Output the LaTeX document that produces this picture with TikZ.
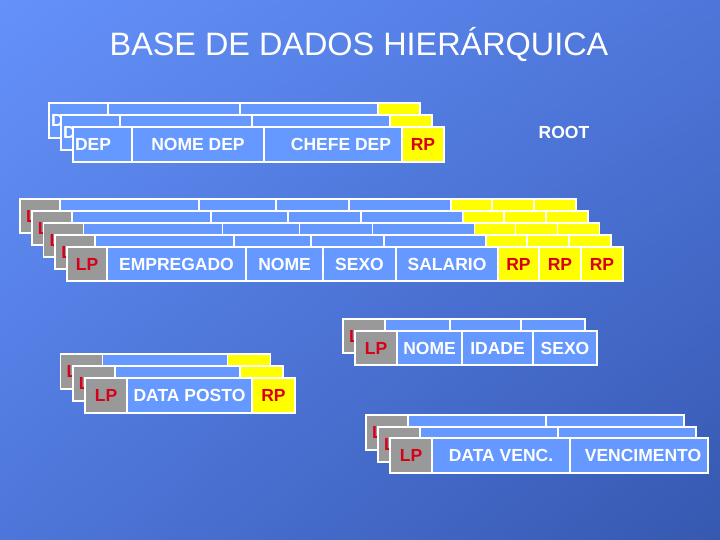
\documentclass[tikz,border=0pt]{standalone}
\usepackage{fontspec}
\setmainfont{Liberation Sans}
\usetikzlibrary{shadings}
\definecolor{bgA}{RGB}{100,146,250}
\definecolor{bgB}{RGB}{78,118,218}
\definecolor{bgC}{RGB}{54,88,176}
\definecolor{cellblue}{RGB}{102,153,255}
\definecolor{cellgray}{RGB}{153,153,153}
\definecolor{cellyellow}{RGB}{255,255,0}
\definecolor{lpred}{RGB}{215,0,25}
\newcommand\cellfont{\fontsize{17.5}{20}\selectfont\bfseries}
\newcommand\backrec[4]{\foreach \a/\b/\c in {#4}{\filldraw[cellline,fill=\c] ({#1+\a},#2) rectangle ({#1+\b},{#2+#3});}}
\tikzset{
  cellline/.style={draw=white, line width=1.8pt},
  cell/.style={cellline, fill=cellblue, inner sep=0pt, outer sep=0pt, anchor=north west, font=\cellfont, text=white},
  gcell/.style={cell, fill=cellgray, text=lpred},
  ycell/.style={cell, fill=cellyellow, text=lpred},
  peekD/.style={inner sep=0pt, anchor=west, font=\cellfont, text=white},
  peekL/.style={inner sep=0pt, anchor=west, font=\cellfont, text=lpred},
}
\begin{document}
\begin{tikzpicture}[x=1pt,y=-1pt]
\useasboundingbox (0,0) rectangle (720,540);
\shade[upper left=bgA, upper right=bgB, lower left=bgB, lower right=bgC] (0,0) rectangle (720,540);

\node[font=\fontsize{32.4}{38}\selectfont, text=white, anchor=base, inner sep=0pt] (title) at (359,56) {BASE DE DADOS HIERÁRQUICA};
\node[font=\cellfont, text=white, inner sep=0pt] (root) at (564,132) {ROOT};

% ---- group 1: DEP
\backrec{49}{103}{35}{0/59/cellblue,59/191/cellblue,191/329/cellblue,329/371/cellyellow}
\node[peekD] (d0) at (51,120.5) {D};
\backrec{61}{115}{35}{0/59/cellblue,59/191/cellblue,191/329/cellblue,329/371/cellyellow}
\node[peekD] (d1) at (63,132.5) {D};
\node[cell, minimum width=59pt, minimum height=35pt, text width=55pt, align=left] (dep) at (73,127) {DEP};
\node[cell, minimum width=132pt, minimum height=35pt] (nomedep) at (132,127) {NOME DEP};
\node[cell, minimum width=138pt, minimum height=35pt] (chefedep) at (264,127) {\hspace*{16pt}CHEFE DEP};
\node[ycell, minimum width=42pt, minimum height=35pt] (rp1) at (402,127) {RP};

% ---- group 2: EMPREGADO
\backrec{20}{199}{34}{0/40/cellgray,40/179/cellblue,179/256/cellblue,256/329/cellblue,329/431/cellblue,431/472/cellyellow,472/514/cellyellow,514/556/cellyellow}
\node[peekL] (l20) at (26,216) {L};
\backrec{31.75}{211}{34}{0/40/cellgray,40/179/cellblue,179/256/cellblue,256/329/cellblue,329/431/cellblue,431/472/cellyellow,472/514/cellyellow,514/556/cellyellow}
\node[peekL] (l21) at (37.75,228) {L};
\backrec{43.5}{223}{34}{0/40/cellgray,40/179/cellblue,179/256/cellblue,256/329/cellblue,329/431/cellblue,431/472/cellyellow,472/514/cellyellow,514/556/cellyellow}
\node[peekL] (l22) at (49.5,240) {L};
\backrec{55.25}{235}{34}{0/40/cellgray,40/179/cellblue,179/256/cellblue,256/329/cellblue,329/431/cellblue,431/472/cellyellow,472/514/cellyellow,514/556/cellyellow}
\node[peekL] (l23) at (61.25,252) {L};
\node[gcell, minimum width=40pt, minimum height=34pt] (lp2) at (67,247) {LP};
\node[cell, minimum width=139pt, minimum height=34pt] (emp) at (107,247) {EMPREGADO};
\node[cell, minimum width=77pt, minimum height=34pt] (nome2) at (246,247) {NOME};
\node[cell, minimum width=73pt, minimum height=34pt] (sexo2) at (323,247) {SEXO};
\node[cell, minimum width=102pt, minimum height=34pt] (salario) at (396,247) {SALARIO};
\node[ycell, minimum width=41pt, minimum height=34pt] (rp2a) at (498,247) {RP};
\node[ycell, minimum width=42pt, minimum height=34pt] (rp2b) at (539,247) {RP};
\node[ycell, minimum width=42pt, minimum height=34pt] (rp2c) at (581,247) {RP};

% ---- group 3: NOME IDADE SEXO
\backrec{343}{319}{34}{0/42/cellgray,42/107/cellblue,107/178/cellblue,178/242/cellblue}
\node[peekL] (l30) at (349,336) {L};
\node[gcell, minimum width=42pt, minimum height=34pt] (lp3) at (355,331) {LP};
\node[cell, minimum width=65pt, minimum height=34pt] (nome3) at (397,331) {NOME};
\node[cell, minimum width=71pt, minimum height=34pt] (idade) at (462,331) {IDADE};
\node[cell, minimum width=64pt, minimum height=34pt] (sexo3) at (533,331) {SEXO};

% ---- group 4: DATA POSTO
\backrec{60.5}{354}{35}{0/42/cellgray,42/167/cellblue,167/210/cellyellow}
\node[peekL] (l40) at (66.5,371.5) {L};
\backrec{72.75}{366}{35}{0/42/cellgray,42/167/cellblue,167/210/cellyellow}
\node[peekL] (l41) at (78.75,383.5) {L};
\node[gcell, minimum width=42pt, minimum height=35pt] (lp4) at (85,378) {LP};
\node[cell, minimum width=125pt, minimum height=35pt] (datap) at (127,378) {DATA POSTO};
\node[ycell, minimum width=43pt, minimum height=35pt] (rp4) at (252,378) {RP};

% ---- group 5: DATA VENC.
\backrec{366}{415}{35}{0/42/cellgray,42/180/cellblue,180/318/cellblue}
\node[peekL] (l50) at (372,432.5) {L};
\backrec{378}{427}{35}{0/42/cellgray,42/180/cellblue,180/318/cellblue}
\node[peekL] (l51) at (384,444.5) {L};
\node[gcell, minimum width=42pt, minimum height=35pt] (lp5) at (390,438) {LP};
\node[cell, minimum width=138pt, minimum height=35pt] (datav) at (432,438) {DATA VENC.};
\node[cell, minimum width=138pt, minimum height=35pt] (venc) at (570,438) {\hspace*{8pt}VENCIMENTO};
\end{tikzpicture}
\end{document}
